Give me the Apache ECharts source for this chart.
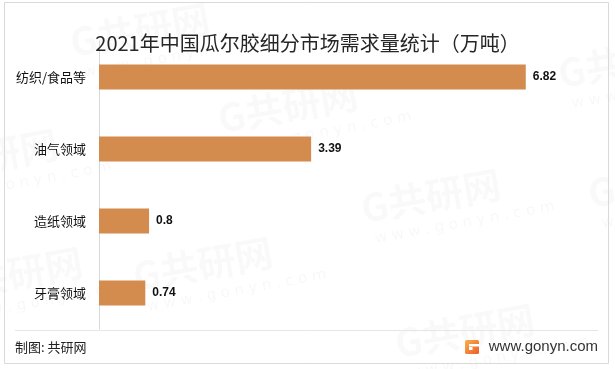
<!DOCTYPE html>
<html>
<head>
<meta charset="utf-8">
<script src="https://cdn.jsdelivr.net/npm/echarts@6/dist/echarts.min.js"></script>
<style>
  html, body { margin: 0; padding: 0; background: #fff; }
  #chart { width: 615px; height: 369px; }
</style>
</head>
<body>
<div id="chart"></div>
<script>
// 2021 guar gum demand by application segment (10k tonnes)
const categories = ['纺织/食品等', '油气领域', '造纸领域', '牙膏领域'];
const demand = [6.82, 3.39, 0.8, 0.74];

const titleText = '2021年中国瓜尔胶细分市场需求量统计（万吨）';
const sourceText = '制图: 共研网';
const siteText = 'www.gonyn.com';

const CJK = '"Noto Sans CJK SC", "Microsoft YaHei", sans-serif';
const barColor = '#D38C4E';
const lineGray = '#D9D9D9';

// faint tiled brand watermark
const markSpots = [
  [67, 24], [555, 55], [215, 100], [-85, 150], [358, 190],
  [585, 175], [130, 258], [-60, 268], [392, 325]
];
const watermark = [];
markSpots.forEach(([x, y]) => {
  watermark.push({
    type: 'group', x: x, y: y, rotation: 0.18, silent: true, z: -10,
    children: [
      { type: 'text', x: 0, y: 0, style: { text: 'G共研网', font: 'bold 38px ' + CJK, fill: 'rgba(0,0,0,0.022)' } },
      { type: 'text', x: 8, y: 44, style: { text: 'w w w . g o n y n . c o m', font: '15px "DejaVu Sans", sans-serif', fill: 'rgba(0,0,0,0.03)' } }
    ]
  });
});

const chart = echarts.init(document.getElementById('chart'), null, { renderer: 'canvas' });

chart.setOption({
  backgroundColor: '#fff',
  animation: false,
  title: {
    text: titleText,
    left: 'center',
    top: 25,
    textStyle: { fontFamily: CJK, fontSize: 20, fontWeight: 'normal', color: '#262626', lineHeight: 26 }
  },
  grid: { left: 99, top: 41, height: 288, right: 15.4, containLabel: false },
  xAxis: {
    type: 'value', min: 0, max: 8,
    axisLine: { show: false }, axisTick: { show: false },
    axisLabel: { show: false }, splitLine: { show: false }
  },
  yAxis: {
    type: 'category',
    inverse: true,
    data: categories,
    axisLine: { show: true, lineStyle: { color: lineGray, width: 1 } },
    axisTick: { show: false },
    axisLabel: { margin: 13, fontFamily: CJK, fontSize: 13, color: '#111' }
  },
  series: [{
    type: 'bar',
    data: demand,
    barWidth: 25,
    itemStyle: { color: barColor },
    label: {
      show: true, position: 'right', distance: 7,
      fontFamily: '"Liberation Sans", Arial, sans-serif', fontWeight: 'bold', fontSize: 12, color: '#111'
    }
  }],
  graphic: watermark.concat([
    // outer frame
    { type: 'rect', shape: { x: 4.5, y: 2.5, width: 604, height: 361 }, style: { fill: null, stroke: lineGray, lineWidth: 1 }, silent: true },
    // footer divider
    { type: 'line', shape: { x1: 15, y1: 330.5, x2: 598, y2: 330.5 }, style: { stroke: '#E6E6E6', lineWidth: 1 }, silent: true },
    { type: 'text', x: 15, y: 347, style: { text: sourceText, font: '13px ' + CJK, fill: '#222', textVerticalAlign: 'middle' } },
    // site logo mark
    { type: 'rect', shape: { x: 465, y: 340, width: 14, height: 14, r: 1.5 },
      style: { fill: new echarts.graphic.LinearGradient(0, 0, 1, 1, [{ offset: 0, color: '#F7B347' }, { offset: 1, color: '#EE5A2E' }]) } },
    { type: 'rect', shape: { x: 469, y: 344, width: 10, height: 2.5 }, style: { fill: '#fff' } },
    { type: 'rect', shape: { x: 469, y: 347, width: 3.5, height: 3 }, style: { fill: '#fff' } },
    { type: 'text', x: 598, y: 347, style: { text: siteText, font: '15px "Liberation Sans", Arial, sans-serif', fill: '#333', textAlign: 'right', textVerticalAlign: 'middle' } }
  ])
});
</script>
</body>
</html>
